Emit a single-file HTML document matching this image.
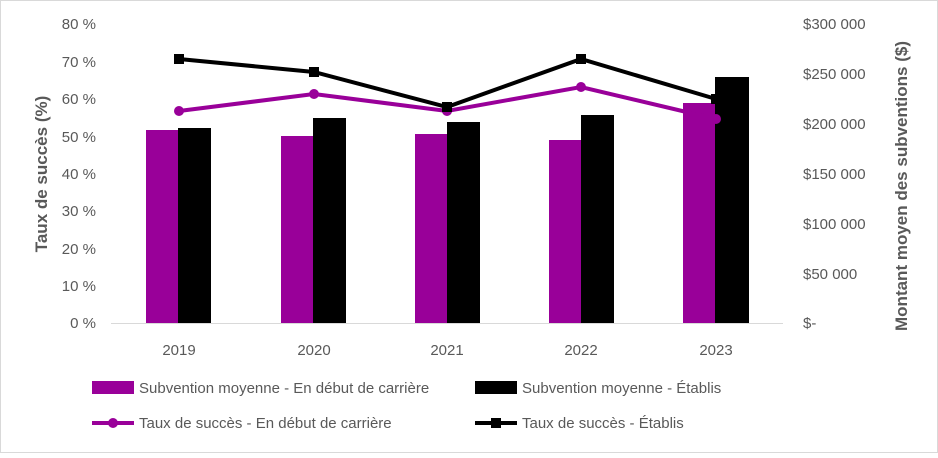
<!DOCTYPE html>
<html><head><meta charset="utf-8"><style>
body{margin:0;background:#fff}
svg text{font-family:"Liberation Sans",sans-serif;fill:#595959}
</style></head><body>
<svg width="938" height="453" xmlns="http://www.w3.org/2000/svg">
<rect x="0.5" y="0.5" width="937" height="452" fill="#fff" stroke="#d9d9d9"/>
<g font-size="15" text-anchor="end">
<text x="96" y="29">80 %</text><text x="96" y="67">70 %</text><text x="96" y="104">60 %</text><text x="96" y="142">50 %</text><text x="96" y="179">40 %</text><text x="96" y="216">30 %</text><text x="96" y="254">20 %</text><text x="96" y="291">10 %</text><text x="96" y="328">0 %</text>
</g>
<g font-size="15" text-anchor="start">
<text x="803" y="29">$300 000</text><text x="803" y="79">$250 000</text><text x="803" y="129">$200 000</text><text x="803" y="179">$150 000</text><text x="803" y="229">$100 000</text><text x="803" y="279">$50 000</text><text x="803" y="328">$-</text>
</g>
<text x="0" y="0" font-size="17" font-weight="bold" transform="translate(47,174) rotate(-90)" text-anchor="middle">Taux de succès (%)</text>
<text x="0" y="0" font-size="17" font-weight="bold" transform="translate(907,186) rotate(-90)" text-anchor="middle">Montant moyen des subventions ($)</text>
<line x1="111" y1="323.5" x2="783" y2="323.5" stroke="#d9d9d9"/>
<g fill="#990099">
<rect x="146" y="130" width="32" height="193"/><rect x="281" y="136" width="32" height="187"/><rect x="415" y="134" width="32" height="189"/><rect x="549" y="140" width="32" height="183"/><rect x="683" y="103" width="32" height="220"/>
</g>
<g fill="#000">
<rect x="178" y="128" width="33" height="195"/><rect x="313" y="118" width="33" height="205"/><rect x="447" y="122" width="33" height="201"/><rect x="581" y="115" width="33" height="208"/><rect x="715" y="77" width="34" height="246"/>
</g>
<polyline points="179,111 314,94 447,111 581,87 716,119" fill="none" stroke="#990099" stroke-width="4"/>
<g fill="#990099"><circle cx="179" cy="111" r="5"/><circle cx="314" cy="94" r="5"/><circle cx="447" cy="111" r="5"/><circle cx="581" cy="87" r="5"/><circle cx="716" cy="119" r="5"/></g>
<polyline points="179,59 314,72 447,107 581,59 716,99" fill="none" stroke="#000" stroke-width="4"/>
<g fill="#000"><rect x="174" y="54" width="10" height="10"/><rect x="309" y="67" width="10" height="10"/><rect x="442" y="102" width="10" height="10"/><rect x="576" y="54" width="10" height="10"/><rect x="711" y="94" width="10" height="10"/></g>
<g font-size="15" text-anchor="middle">
<text x="179" y="355">2019</text><text x="314" y="355">2020</text><text x="447" y="355">2021</text><text x="581" y="355">2022</text><text x="716" y="355">2023</text>
</g>
<g font-size="15">
<rect x="92" y="381" width="42" height="13" fill="#990099"/><text x="139" y="393">Subvention moyenne - En début de carrière</text>
<rect x="475" y="381" width="42" height="13" fill="#000"/><text x="522" y="393">Subvention moyenne - Établis</text>
<line x1="92" y1="423" x2="134" y2="423" stroke="#990099" stroke-width="4"/><circle cx="113" cy="423" r="5" fill="#990099"/><text x="139" y="428">Taux de succès - En début de carrière</text>
<line x1="475" y1="423" x2="517" y2="423" stroke="#000" stroke-width="4"/><rect x="491" y="418" width="10" height="10"/><text x="522" y="428">Taux de succès - Établis</text>
</g>
</svg>
</body></html>
